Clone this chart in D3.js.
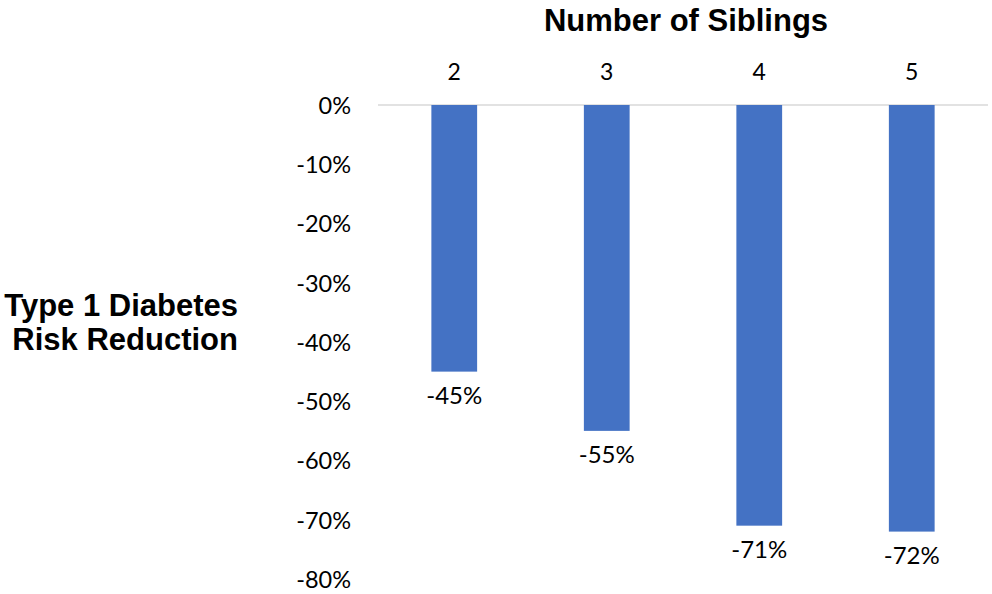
<!DOCTYPE html>
<html>
<head>
<meta charset="utf-8">
<title>Siblings and Type 1 Diabetes</title>
<script src="https://d3js.org/d3.v7.min.js"></script>
<style>
  body { margin: 0; background: #fff; }
  .tick text { font-family: Lato, "Open Sans", sans-serif; fill: #000; }
  .title { font-family: "Liberation Sans", Arial, sans-serif; font-weight: bold; fill: #000; }
  .label { font-family: Lato, "Open Sans", sans-serif; font-size: 24px; fill: #000; }
</style>
</head>
<body>
<svg width="992" height="594"></svg>
<script>
// data
var siblings = ["2", "3", "4", "5"];
var reduction = [-0.45, -0.55, -0.71, -0.72];
var yTicks = [0, -0.1, -0.2, -0.3, -0.4, -0.5, -0.6, -0.7, -0.8];

var svg = d3.select("svg");
var pct = function(d) { return d3.format(".0%")(d).replace("−", "-"); };

var x = d3.scaleBand()
  .domain(siblings)
  .range([378, 988]);

var y = d3.scaleLinear()
  .domain([0, -0.8])
  .range([105, 579]);

var barW = x.bandwidth() * 0.3;

// zero line
svg.append("line")
  .attr("x1", 378).attr("x2", 988)
  .attr("y1", y(0)).attr("y2", y(0))
  .attr("stroke", "#d9d9d9")
  .attr("stroke-width", 1.3);

// y axis, labels only
var yAxis = svg.append("g")
  .attr("transform", "translate(351,0)")
  .call(d3.axisLeft(y).tickValues(yTicks).tickFormat(pct).tickSize(0).tickPadding(0));
yAxis.select(".domain").remove();
yAxis.selectAll(".tick text").attr("font-size", 23.5).attr("dy", "0.36em");

// x axis on top
var xAxis = svg.append("g")
  .attr("transform", "translate(0,80)")
  .call(d3.axisTop(x).tickSize(0).tickPadding(0));
xAxis.select(".domain").remove();
xAxis.selectAll(".tick text").attr("font-size", 23).attr("dy", "0");

// bars
svg.selectAll(".bar")
  .data(reduction)
  .enter().append("rect")
  .attr("class", "bar")
  .attr("x", function(d, i) { return x(siblings[i]) + x.bandwidth() / 2 - barW / 2; })
  .attr("y", y(0))
  .attr("width", barW)
  .attr("height", function(d) { return y(d) - y(0); })
  .attr("fill", "#4472c4");

// value labels
svg.selectAll(".label")
  .data(reduction)
  .enter().append("text")
  .attr("class", "label")
  .attr("x", function(d, i) { return x(siblings[i]) + x.bandwidth() / 2; })
  .attr("y", function(d) { return y(d) + 32; })
  .attr("text-anchor", "middle")
  .text(pct);

// titles
svg.append("text")
  .attr("class", "title")
  .attr("x", 686).attr("y", 31)
  .attr("text-anchor", "middle")
  .attr("font-size", 31)
  .text("Number of Siblings");

var yt = svg.append("text")
  .attr("class", "title")
  .attr("text-anchor", "end")
  .attr("font-size", 31);
yt.append("tspan").attr("x", 238).attr("y", 316).text("Type 1 Diabetes");
yt.append("tspan").attr("x", 238).attr("y", 350).text("Risk Reduction");
</script>
</body>
</html>
